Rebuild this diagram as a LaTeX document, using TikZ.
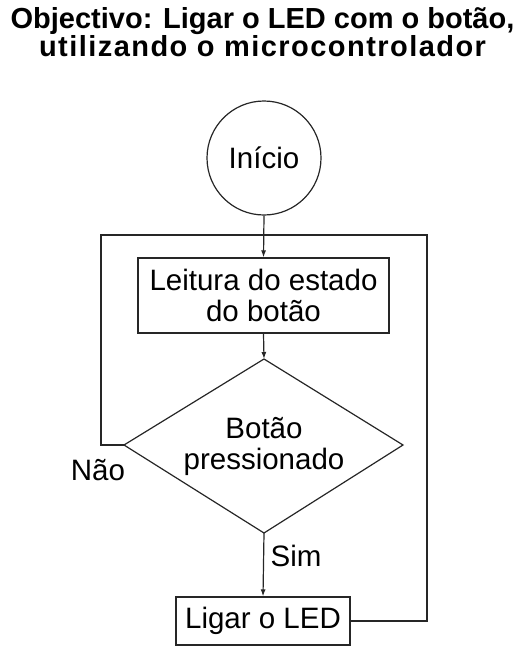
\documentclass[tikz,border=0pt]{standalone}
\usepackage{fontspec}
\setmainfont{Liberation Sans}
\usetikzlibrary{shapes.geometric,arrows.meta}
\tikzset{
  ln/.style={draw=black!85, line width=1.2pt},
  arr/.style={ln, -{Latex[length=7pt,width=5pt]}},
  txt/.style={font=\fontsize{29.5}{31}\selectfont},
  ttl/.style={font=\fontsize{29}{28}\selectfont\bfseries, anchor=base},
  boxn/.style={ln, rectangle, txt, align=center, inner sep=0pt},
}
\begin{document}
\begin{tikzpicture}[x=1pt,y=1pt]
\useasboundingbox (0,0) rectangle (525,-653);
\node[ttl] (t1) at (262.5,-28.3) {Objectivo: Ligar o LED com o botão,};
\node[ttl] (t2) at (262.5,-56.7) {\addfontfeatures{LetterSpace=5}utilizando o microcontrolador};
\node[ln, circle, txt, minimum size=114pt, inner sep=0pt] (ini) at (264,-158) {Início};
\node[boxn, minimum width=251pt, minimum height=75pt] (ler) at (263.5,-295.5) {Leitura do estado\\do botão};
\coordinate (dt) at (264,-359);
\coordinate (dr) at (403,-445);
\coordinate (db) at (264,-533);
\coordinate (dl) at (124,-445);
\draw[ln] (dt) -- (dr) -- (db) -- (dl) -- cycle;
\node[txt, align=center] (dec) at (264,-446) {Botão\\pressionado};
\node[boxn, minimum width=174pt, minimum height=48pt] (led) at (263,-621) {Ligar o LED};
\coordinate (j) at (264,-235);
\coordinate (lc) at (101,-235);
\coordinate (rc) at (427,-235);
\draw[arr] (ini.south) -- (ler.north);
\draw[arr] (ler.south) -- (dt);
\draw[arr] (db) -- (led.north);
\draw[ln] (dl) -| (lc) -- (j);
\draw[ln] (led.east) -| (rc) -- (j);
\node[txt, anchor=base] (nao) at (98,-480) {Não};
\node[txt, anchor=base] (sim) at (296,-566.7) {Sim};
\end{tikzpicture}
\end{document}
